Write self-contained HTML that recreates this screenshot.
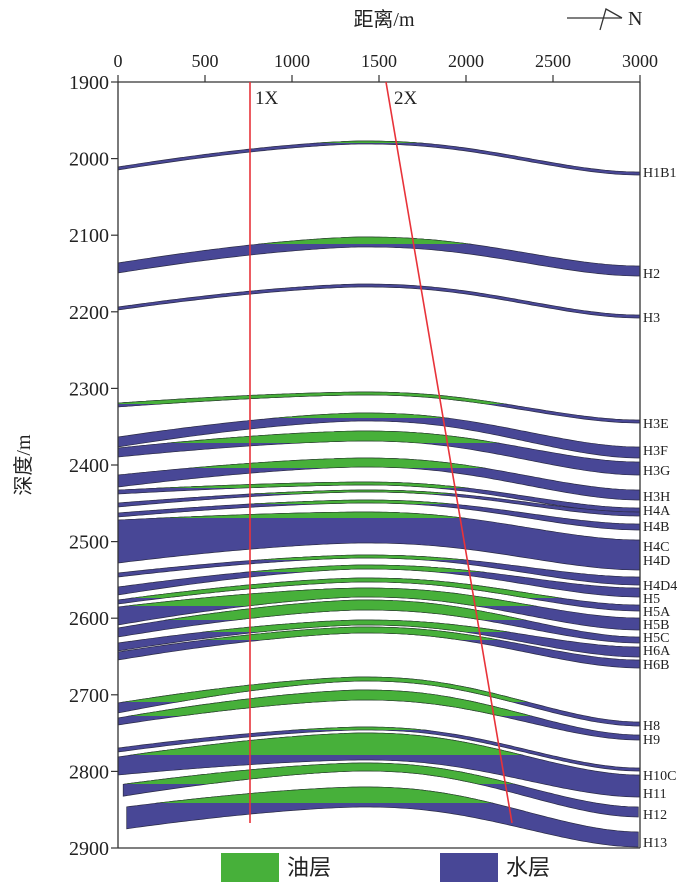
<!DOCTYPE html>
<html><head><meta charset="utf-8">
<style>
html,body{margin:0;padding:0;background:#fff;}
svg{display:block;}
text{font-family:"Liberation Serif","Noto Serif CJK SC",serif;fill:#222;}
.cj{font-family:"Liberation Serif","Noto Sans CJK SC",sans-serif;}
</style></head>
<body>
<svg id="s" xmlns="http://www.w3.org/2000/svg" width="700" height="888" viewBox="0 0 700 888">
<defs></defs>
<g id="layers"></g>
<g stroke="#333" stroke-width="1.3" fill="none">
<line x1="118" y1="82" x2="640" y2="82"/>
<line x1="118" y1="82" x2="118" y2="848"/>
<line x1="118" y1="848" x2="640" y2="848"/>
<line x1="640" y1="82" x2="640" y2="848"/>
</g>
<g id="ticks" stroke="#333" stroke-width="1.2"></g>
<g id="tl"></g>
<line x1="250" y1="82" x2="250" y2="823" stroke="#e8333a" stroke-width="1.6"/>
<line x1="386" y1="82" x2="512" y2="823" stroke="#e8333a" stroke-width="1.6"/>
<text x="255" y="104" font-size="19">1X</text>
<text x="394" y="104" font-size="19">2X</text>
<text class="cj" x="384" y="26" font-size="20" text-anchor="middle">距离/m</text>
<g stroke="#333" stroke-width="1.3" fill="none">
<line x1="567" y1="18" x2="622" y2="18"/>
<polyline points="600,30 606,9 622,18"/>
</g>
<text x="628" y="25" font-size="20">N</text>
<text class="cj" x="30" y="465" font-size="20" text-anchor="middle" transform="rotate(-90 30 465)">深度/m</text>
<rect x="221" y="853" width="58" height="29" fill="#47b03a"/>
<text class="cj" x="287" y="875" font-size="22">油层</text>
<rect x="440" y="853" width="58" height="29" fill="#484796"/>
<text class="cj" x="506" y="875" font-size="22">水层</text>
<g id="rl"></g>
</svg>
<script>
(function(){
var NS="http://www.w3.org/2000/svg";
function el(n,a,p){var e=document.createElementNS(NS,n);for(var k in a)e.setAttribute(k,a[k]);p.appendChild(e);return e;}
var svg=document.getElementById('s'),L=document.getElementById('layers'),defs=svg.querySelector('defs');
function X(m){return 118+m*0.174;}
function f(m){
 if(m<1400){var u=(1400-m)/1400;return Math.pow(u,1.5);}
 var v=(m-1400)/1600;var w=Math.pow(v,1.2);return w*w*(3-2*w);
}
var layers=[
[167,3,141,3,172,3,143,0],
[263,10,237,10,266,10,244,0],
[307,3,284,3,315,3,0,0],
[403,4,392,3,420,3,404,0],
[437,10,413,8,447,11,418,0],
[448,9,431,10,462,13,443,0],
[475,12,458,9,490,10,468,0],
[490,4,482,3,508,5,488,0],
[503,4,490,2,512,4,494,0],
[513,4,500,3,524,6,504,0],
[520,43,512,31,540,30,518,0],
[573,4,555,3,577,8,560,0],
[587,8,565,4,588,9,572,0],
[600,4,578,4,605,6,598,0],
[607,18,588,9,618,12,606,0],
[628,9,600,10,637,6,620,0],
[643,8,620,5,647,10,632,0],
[652,8,627,6,660,8,640,0],
[703,10,677,4,722,4,702,0],
[718,7,690,10,735,5,716,0],
[748,4,727,3,768,3,730,0],
[757,18,733,27,775,22,755,0],
[785,12,763,8,807,10,784,30],
[808,22,787,20,832,15,803,50]
];
layers.forEach(function(l,i){
 var top=[],bot=[];
 for(var m=l[7];m<=3000;m+=20){
  var s=f(m),left=m<1400;
  var y=l[2]+((left?l[0]:l[4])-l[2])*s;
  var t=l[3]+((left?l[1]:l[5])-l[3])*s;
  top.push(X(m).toFixed(1)+","+y.toFixed(1));
  bot.unshift(X(m).toFixed(1)+","+(y+t).toFixed(1));
 }
 var pts=top.concat(bot).join(" ");
 el('polygon',{points:pts,fill:'#484796',stroke:'#2b2b45','stroke-width':0.7},L);
 if(l[6]>0){
  var cid='c'+i;var cp2=el('clipPath',{id:cid},defs);
  el('rect',{x:0,y:0,width:700,height:l[6]},cp2);
  el('polygon',{points:pts,fill:'#47b03a',stroke:'#2b4a2b','stroke-width':0.7,'clip-path':'url(#'+cid+')'},L);
 }
});
var T=document.getElementById('ticks'),TL=document.getElementById('tl');
for(var d=1900;d<=2900;d+=100){var y=82+(d-1900)*0.766;
 el('line',{x1:111,y1:y,x2:118,y2:y},T);
 var tx=el('text',{x:109,y:y+7,'font-size':20,'text-anchor':'end'},TL);tx.textContent=d;}
for(var m=0;m<=3000;m+=500){var x=X(m);
 el('line',{x1:x,y1:75,x2:x,y2:82},T);
 var tx=el('text',{x:x,y:67,'font-size':18,'text-anchor':'middle'},TL);tx.textContent=m;}
var R=document.getElementById('rl');
[["H1B1",172],["H2",273],["H3",317],["H3E",423],["H3F",450],["H3G",470],["H3H",496],["H4A",510],["H4B",526],["H4C",546],["H4D",560],["H4D4",585],["H5",598],["H5A",611],["H5B",624],["H5C",637],["H6A",650],["H6B",664],["H8",725],["H9",739],["H10C",775],["H11",793],["H12",814],["H13",842]].forEach(function(a){
 var tx=el('text',{x:643,y:a[1]+5,'font-size':14},R);tx.textContent=a[0];});
})();
</script>
</body></html>
